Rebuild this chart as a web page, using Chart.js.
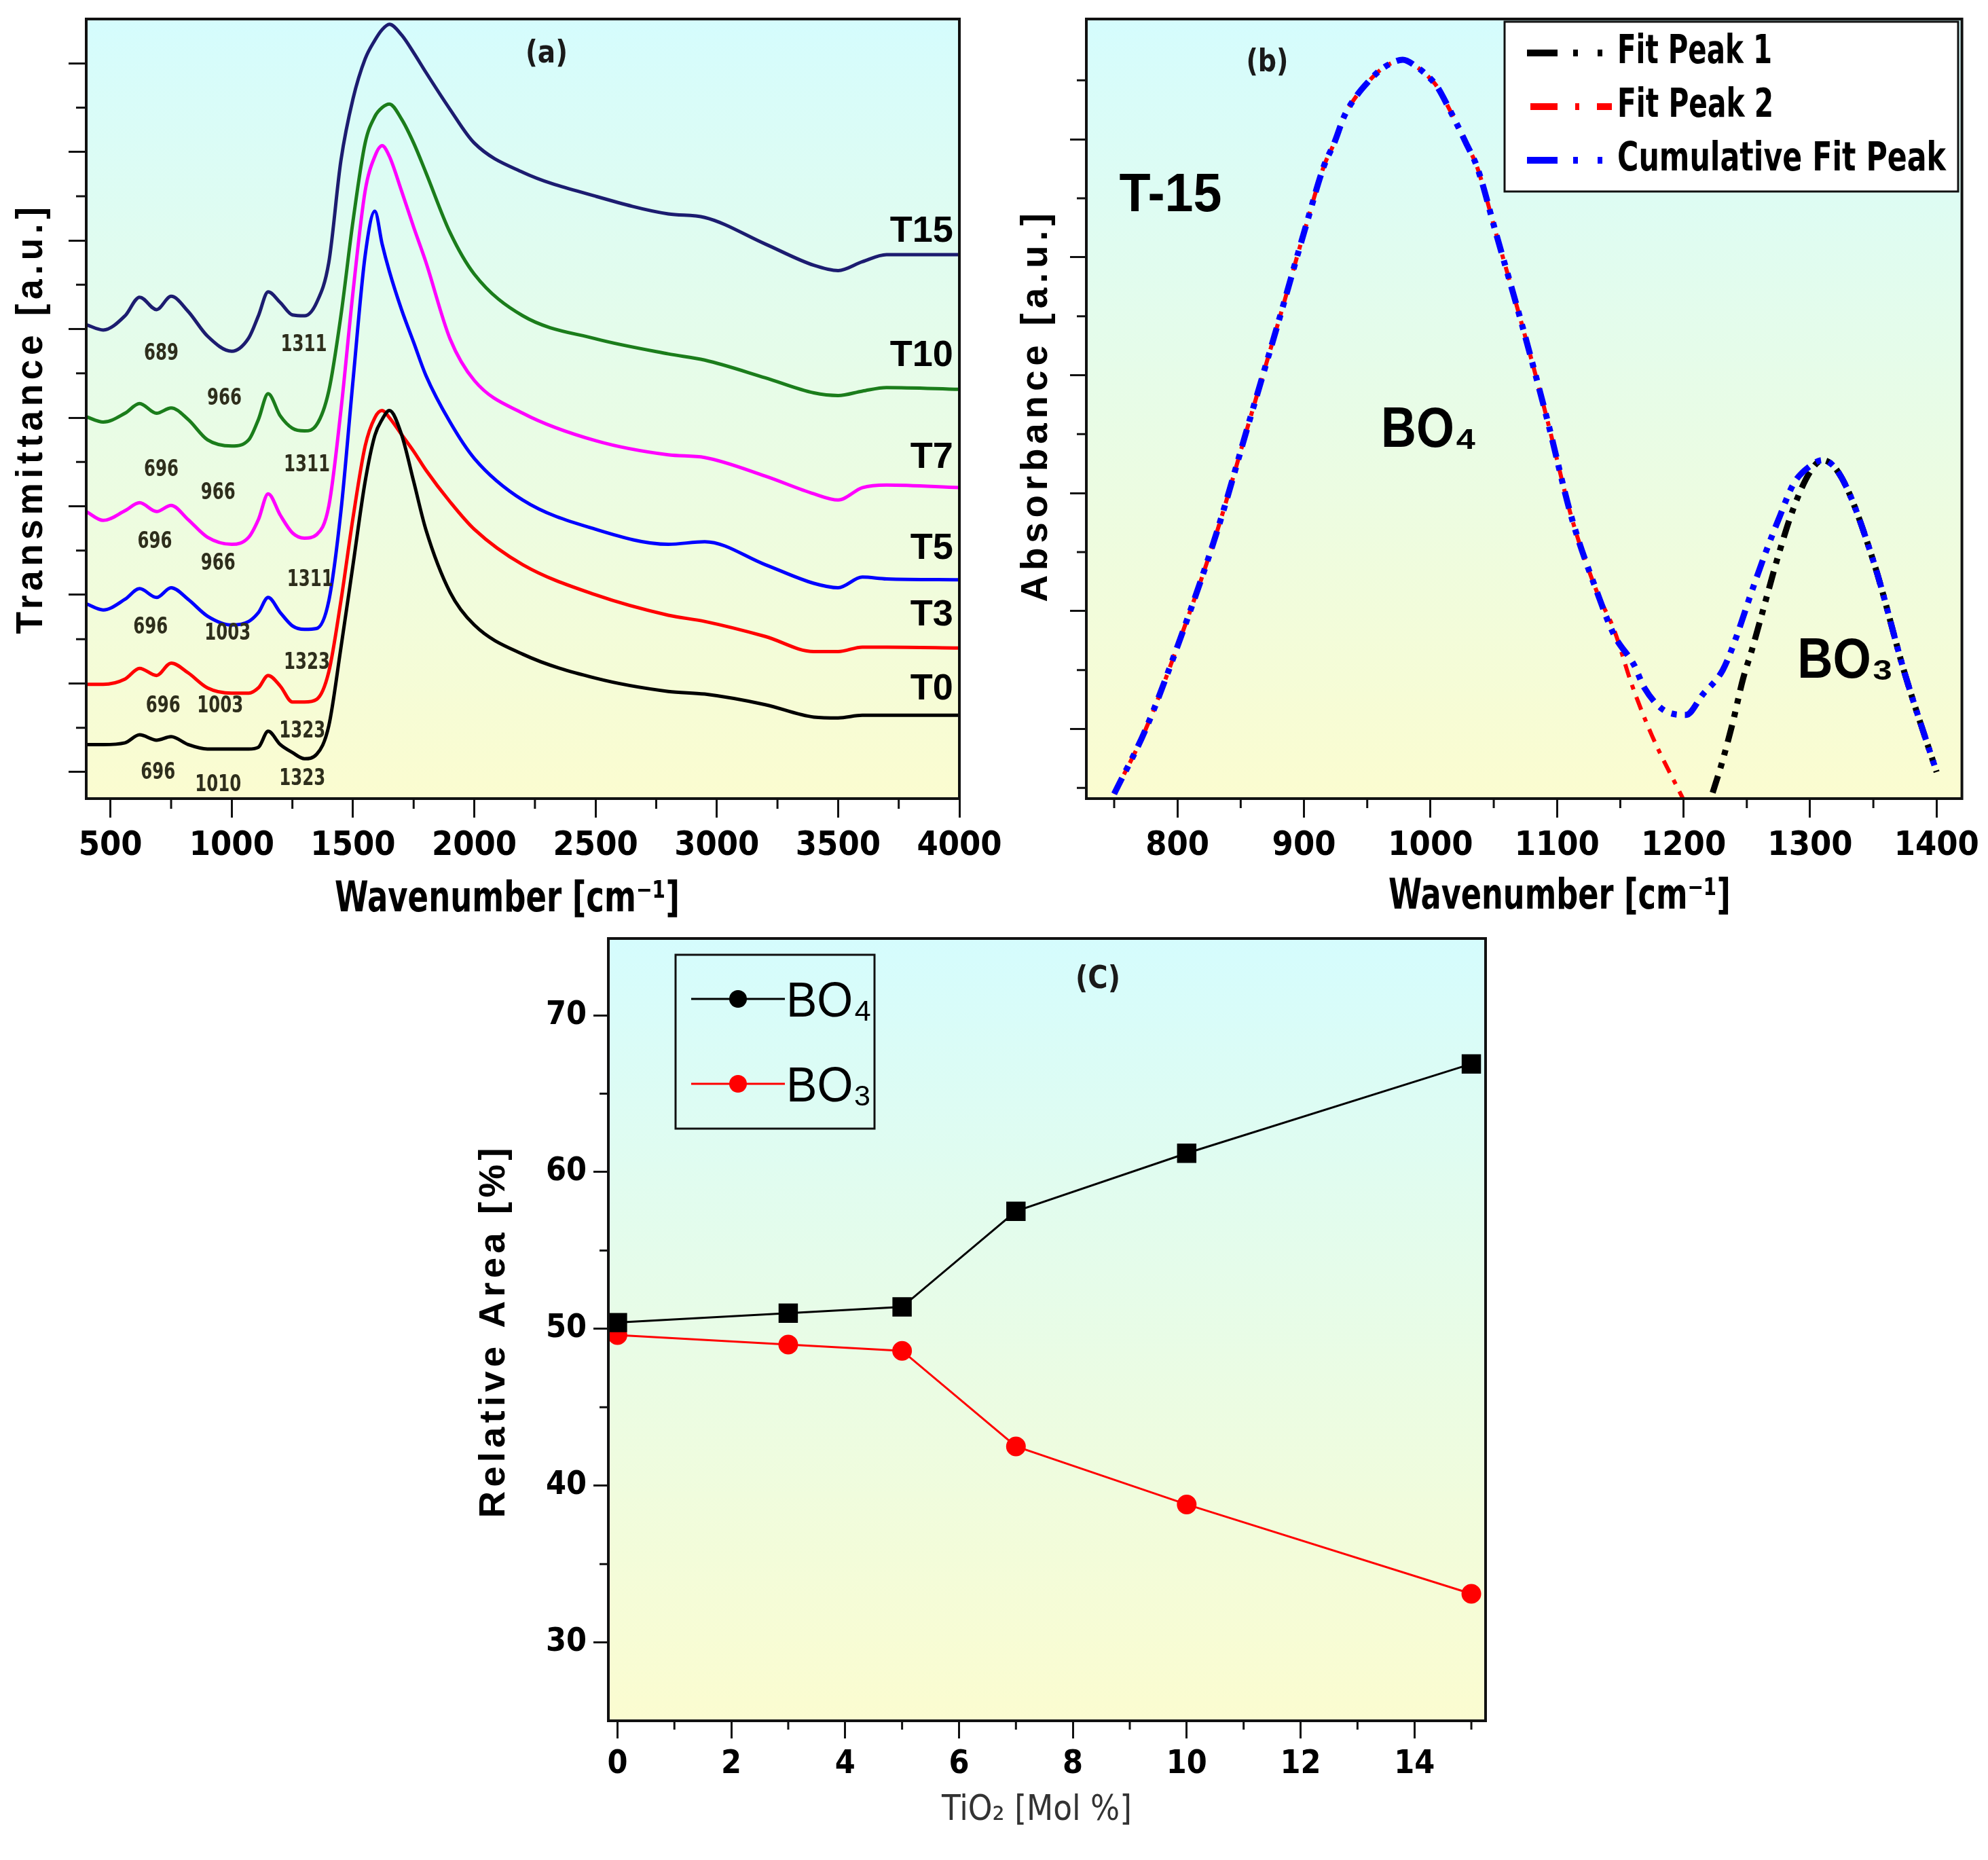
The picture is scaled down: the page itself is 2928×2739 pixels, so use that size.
<!DOCTYPE html>
<html>
<head>
<meta charset="utf-8">
<script src="https://cdn.jsdelivr.net/npm/chart.js@4.4.1/dist/chart.umd.min.js"></script>
<style>
  body { margin: 0; background: #fff; width: 2928px; height: 2739px; position: relative; overflow: hidden; }
  canvas { position: absolute; left: 0; top: 0; }
</style>
</head>
<body>
<canvas id="chartA" width="2928" height="2739"></canvas>
<canvas id="chartB" width="2928" height="2739"></canvas>
<canvas id="chartC" width="2928" height="2739"></canvas>
<script>
// ---------- (a) FTIR transmittance spectra, stacked (arbitrary units) ----------
const ftirWavenumbers = [400, 470, 560, 620, 690, 750, 820, 900, 1000, 1070, 1110, 1150, 1200, 1250, 1300, 1350, 1400, 1450, 1500, 1550, 1590, 1620, 1650, 1700, 1750, 1800, 1900, 2000, 2200, 2500, 2800, 2950, 3200, 3400, 3500, 3600, 3700, 4000]
const t0  = [0.31, 0.31, 0.33, 0.42, 0.36, 0.40, 0.31, 0.26, 0.26, 0.26, 0.28, 0.46, 0.31, 0.22, 0.15, 0.20, 0.52, 1.40, 2.34, 3.28, 3.80, 3.98, 4.08, 3.81, 3.28, 2.74, 2.03, 1.66, 1.33, 1.06, 0.91, 0.88, 0.76, 0.62, 0.61, 0.64, 0.64, 0.64]
const t3  = [0.99, 0.99, 1.05, 1.17, 1.09, 1.23, 1.12, 0.95, 0.89, 0.89, 0.95, 1.09, 0.97, 0.79, 0.79, 0.82, 1.13, 1.93, 2.87, 3.68, 4.00, 4.08, 4.00, 3.81, 3.62, 3.41, 3.05, 2.74, 2.34, 2.00, 1.77, 1.70, 1.53, 1.36, 1.36, 1.41, 1.41, 1.40]
const t5  = [1.90, 1.83, 1.95, 2.07, 1.97, 2.08, 1.95, 1.76, 1.66, 1.70, 1.80, 1.97, 1.80, 1.65, 1.61, 1.62, 1.93, 2.94, 4.42, 5.83, 6.33, 5.96, 5.65, 5.22, 4.85, 4.48, 3.95, 3.54, 3.07, 2.74, 2.57, 2.60, 2.34, 2.13, 2.08, 2.20, 2.18, 2.17]
const t7  = [2.94, 2.84, 2.95, 3.04, 2.94, 3.01, 2.85, 2.65, 2.57, 2.65, 2.85, 3.14, 2.90, 2.70, 2.64, 2.68, 3.00, 4.08, 5.42, 6.56, 6.95, 7.07, 6.95, 6.56, 6.15, 5.76, 4.89, 4.42, 4.05, 3.74, 3.58, 3.55, 3.34, 3.14, 3.07, 3.21, 3.24, 3.21]
const t10 = [4.01, 3.95, 4.05, 4.16, 4.05, 4.11, 3.98, 3.75, 3.68, 3.75, 3.98, 4.27, 4.02, 3.88, 3.85, 3.92, 4.30, 5.15, 6.22, 7.10, 7.40, 7.50, 7.54, 7.37, 7.10, 6.77, 6.09, 5.62, 5.15, 4.89, 4.72, 4.65, 4.45, 4.28, 4.25, 4.30, 4.34, 4.32]
const t15 = [5.05, 4.99, 5.15, 5.36, 5.22, 5.37, 5.20, 4.92, 4.75, 4.90, 5.15, 5.42, 5.30, 5.16, 5.15, 5.30, 5.75, 6.90, 7.60, 8.05, 8.26, 8.38, 8.44, 8.32, 8.12, 7.90, 7.48, 7.10, 6.77, 6.50, 6.30, 6.26, 5.96, 5.72, 5.66, 5.76, 5.84, 5.84]
const sampleNames = ['T0', 'T3', 'T5', 'T7', 'T10', 'T15']
const sampleNameLevel = [0.93, 1.77, 2.52, 3.55, 4.70, 6.10]
const bandText = ['689', '1311', '966', '696', '966', '1311', '696', '966', '1311', '696', '1003', '1323', '696', '1003', '1323', '696', '1010', '1323']
const bandWn   = [709, 1297, 970, 709, 944, 1310, 683, 944, 1323, 665, 983, 1310, 717, 952, 1291, 696, 944, 1291]
const bandLevel = [4.72, 4.82, 4.21, 3.41, 3.15, 3.46, 2.60, 2.35, 2.17, 1.63, 1.56, 1.23, 0.74, 0.74, 0.46, -0.01, -0.15, -0.08]
const aMajorX = [500, 1000, 1500, 2000, 2500, 3000, 3500, 4000]
const aMinorX = [750, 1250, 1750, 2250, 2750, 3250, 3750]
const aMajorY = [0, 1, 2, 3, 4, 5, 6, 7, 8]
const aMinorY = [0.5, 1.5, 2.5, 3.5, 4.5, 5.5, 6.5, 7.5]

// ---------- (b) peak fit of T-15 absorbance ----------
const peak2Wn  = [750, 775, 800, 831, 856, 881, 901, 916, 924, 932, 942, 951, 959, 968, 978, 989, 998, 1005, 1014, 1028, 1037, 1052, 1072, 1092, 1112, 1132, 1145, 1159, 1175, 1200]
const peak2Abs = [-0.1, 1.0, 2.4, 4.33, 6.16, 7.99, 9.49, 10.56, 10.94, 11.4, 11.75, 11.98, 12.15, 12.28, 12.35, 12.23, 12.07, 11.9, 11.55, 10.94, 10.52, 9.39, 7.88, 6.27, 4.55, 3.3, 2.69, 1.76, 0.89, -0.2]
const peak1Wn  = [1223, 1230, 1239, 1247, 1254, 1263, 1275, 1287, 1300, 1310, 1325, 1350, 1375, 1400]
const peak1Abs = [-0.08, 0.40, 1.12, 1.85, 2.34, 3.03, 3.95, 4.75, 5.36, 5.56, 5.26, 3.85, 1.93, 0.27]
const cumWn  = [750, 775, 800, 831, 856, 881, 901, 916, 924, 932, 942, 951, 959, 968, 978, 989, 998, 1005, 1014, 1028, 1037, 1052, 1072, 1092, 1112, 1132, 1145, 1161, 1169, 1186, 1202, 1215, 1231, 1240, 1254, 1265, 1275, 1287, 1300, 1310, 1325, 1350, 1375, 1400]
const cumAbs = [-0.1, 1.0, 2.4, 4.33, 6.16, 7.99, 9.49, 10.56, 10.94, 11.4, 11.75, 11.98, 12.15, 12.28, 12.35, 12.23, 12.07, 11.9, 11.55, 10.94, 10.52, 9.39, 7.88, 6.27, 4.55, 3.3, 2.6, 2.08, 1.7, 1.3, 1.24, 1.58, 2.0, 2.46, 3.34, 4.0, 4.55, 5.16, 5.46, 5.56, 5.26, 3.85, 1.93, 0.27]
const fitNames = ['Fit Peak 1', 'Fit Peak 2', 'Cumulative Fit Peak']
const bMajorX = [800, 900, 1000, 1100, 1200, 1300, 1400]
const bMinorX = [750, 850, 950, 1050, 1150, 1250, 1350]
const bMajorY = [1, 3, 5, 7, 9, 11]
const bMinorY = [0, 2, 4, 6, 8, 10, 12]

// ---------- (c) relative area vs TiO2 ----------
const tio2Mol = [0, 3, 5, 7, 10, 15]
const bo4Area = [50.4, 51.0, 51.4, 57.5, 61.2, 66.9]
const bo3Area = [49.6, 49.0, 48.6, 42.5, 38.8, 33.1]
const cMajorX = [0, 2, 4, 6, 8, 10, 12, 14]
const cMinorX = [1, 3, 5, 7, 9, 11, 13, 15]
const cMajorY = [30, 40, 50, 60, 70]
const cMinorY = [35, 45, 55, 65]

const narrow = '"Liberation Sans Narrow", "DejaVu Sans Condensed", sans-serif'
const sans = '"Liberation Sans", Arial, sans-serif'
const W = 2928, H = 2739

function pts(xs, ys) { return xs.map((x, i) => ({x: x, y: ys[i]})) }

// text helper; o.w squeezes the text horizontally to that width
function txt(ctx, s, x, y, o) {
  ctx.save()
  ctx.font = (o.weight || 'bold') + ' ' + o.size + 'px ' + (o.family || narrow)
  ctx.fillStyle = o.color || '#000'
  ctx.textAlign = o.align || 'center'
  ctx.textBaseline = o.baseline || 'middle'
  if (o.spacing) ctx.letterSpacing = o.spacing + 'px'
  ctx.translate(x, y)
  if (o.rotate) ctx.rotate(o.rotate)
  if (o.w) {
    const m = ctx.measureText(s).width
    if (m > 0) ctx.scale(o.w / m, 1)
  }
  ctx.fillText(s, 0, 0)
  ctx.restore()
}

// gradient background, frame and minor ticks for one panel
function decor(minorX, minorY, minorLen, extra) {
  return {
    id: 'decor',
    beforeDraw(chart) {
      const {ctx, chartArea: a} = chart
      const g = ctx.createLinearGradient(0, a.top, 0, a.bottom)
      g.addColorStop(0, '#d5fcfd')
      g.addColorStop(1, '#fbfcd0')
      ctx.save()
      ctx.fillStyle = g
      ctx.fillRect(a.left, a.top, a.right - a.left, a.bottom - a.top)
      ctx.restore()
    },
    afterDraw(chart) {
      const {ctx, chartArea: a, scales} = chart
      ctx.save()
      ctx.strokeStyle = '#111'
      ctx.lineWidth = 3
      ctx.beginPath()
      minorX.forEach(v => {
        const px = scales.x.getPixelForValue(v)
        ctx.moveTo(px, a.bottom); ctx.lineTo(px, a.bottom + minorLen)
      })
      minorY.forEach(v => {
        const py = scales.y.getPixelForValue(v)
        ctx.moveTo(a.left - minorLen, py); ctx.lineTo(a.left, py)
      })
      ctx.stroke()
      ctx.lineWidth = 4
      ctx.strokeRect(a.left, a.top, a.right - a.left, a.bottom - a.top)
      ctx.restore()
      extra(chart, ctx, scales)
    }
  }
}

function axis(min, max, majors, tickLen, fitKey, fitSize, labels, fontSize, pad) {
  return {
    type: 'linear', min: min, max: max,
    afterBuildTicks: s => { s.ticks = majors.map(v => ({value: v})) },
    afterFit: s => { s[fitKey] = fitSize },
    grid: { drawOnChartArea: false, drawTicks: true, tickLength: tickLen, tickWidth: 3, lineWidth: 3, tickColor: '#111' },
    border: { display: false },
    ticks: {
      autoSkip: false, maxRotation: 0, padding: pad, color: '#000',
      font: { family: narrow, size: fontSize, weight: 'bold' },
      callback: v => labels ? String(v) : ''
    }
  }
}

function baseOptions(padding, xScale, yScale) {
  return {
    responsive: false, devicePixelRatio: 1, animation: false, events: [],
    layout: { padding: padding },
    plugins: { legend: { display: false }, tooltip: { enabled: false } },
    scales: { x: xScale, y: yScale }
  }
}

// ---------------- chart (a) ----------------
const specColors = ['#000000', '#ff0000', '#0000ff', '#ff00ff', '#1b7d1b', '#1c1c70']
const spectra = [t0, t3, t5, t7, t10, t15]
new Chart(document.getElementById('chartA'), {
  type: 'line',
  data: {
    datasets: spectra.map((s, i) => ({
      label: sampleNames[i], data: pts(ftirWavenumbers, s),
      borderColor: specColors[i], borderWidth: 5, pointRadius: 0,
      cubicInterpolationMode: 'monotone'
    }))
  },
  options: baseOptions(
    { left: 27, top: 28, right: W - 1413, bottom: H - 1176 - 210 },
    axis(400, 4000, aMajorX, 28, 'height', 210, true, 50, 12),
    axis(-0.3, 8.5, aMajorY, 26, 'width', 100, false, 10, 4)
  ),
  plugins: [decor(aMinorX, aMinorY, 15, (chart, ctx, sc) => {
    bandText.forEach((t, i) => txt(ctx, t, sc.x.getPixelForValue(bandWn[i]), sc.y.getPixelForValue(bandLevel[i]),
      {size: 34, color: '#2e2e1c', w: t.length * 17}))
    sampleNames.forEach((n, i) => txt(ctx, n, sc.x.getPixelForValue(3974), sc.y.getPixelForValue(sampleNameLevel[i]), {size: 54, family: sans, align: 'right'}))
    txt(ctx, '(a)', sc.x.getPixelForValue(2298), sc.y.getPixelForValue(8.1), {size: 46, color: '#1a1a1a', w: 62})
    txt(ctx, 'Transmittance [a.u.]', 47, 616, {size: 56, family: sans, spacing: 7, rotate: -Math.PI / 2, w: 635})
    txt(ctx, 'Wavenumber [cm\u207B\u00B9]', 747, 1326, {size: 62, w: 508})
  })]
})

// ---------------- chart (b) ----------------
const fitColors = ['#000000', '#ff0000', '#0000ff']
const fitDashes = [[26, 12, 8, 12, 8, 12], [20, 12, 7, 12], [26, 12, 8, 12, 8, 12]]
const fitWidths = [9, 6, 9]
const fitData = [pts(peak1Wn, peak1Abs), pts(peak2Wn, peak2Abs), pts(cumWn, cumAbs)]
new Chart(document.getElementById('chartB'), {
  type: 'line',
  data: {
    // cumulative listed first so that it is drawn on top
    datasets: [2, 1, 0].map(i => ({
      label: fitNames[i], data: fitData[i],
      borderColor: fitColors[i], borderWidth: fitWidths[i], borderDash: fitDashes[i],
      pointRadius: 0, cubicInterpolationMode: 'monotone'
    }))
  },
  options: baseOptions(
    { left: 1500, top: 28, right: W - 2890, bottom: H - 1176 - 210 },
    axis(728, 1420, bMajorX, 28, 'height', 210, true, 50, 12),
    axis(-0.18, 13.04, bMajorY, 24, 'width', 100, false, 10, 4)
  ),
  plugins: [decor(bMinorX, bMinorY, 14, (chart, ctx, sc) => {
    const X = v => sc.x.getPixelForValue(v), Y = v => sc.y.getPixelForValue(v)
    txt(ctx, '(b)', X(871), Y(12.29), {size: 46, color: '#1a1a1a', w: 62})
    txt(ctx, 'T-15', X(754), Y(10.03), {size: 80, family: sans, align: 'left', w: 151})
    txt(ctx, 'BO\u2084', X(999), Y(6.05), {size: 84, family: sans, w: 142})
    txt(ctx, 'BO\u2083', X(1328), Y(2.14), {size: 84, family: sans, w: 142})
    // legend box
    ctx.save()
    ctx.fillStyle = '#fff'
    ctx.fillRect(2216, 32, 668, 250)
    ctx.strokeStyle = '#111'; ctx.lineWidth = 3
    ctx.strokeRect(2216, 32, 668, 250)
    const legW = [228, 230, 484]
    const legDash = [[45, 23, 7, 29, 7, 1000], [40, 26, 6, 26, 22, 1000], [45, 23, 7, 29, 7, 1000]]
    fitNames.forEach((n, i) => {
      const y = 78 + i * 79
      const x0 = i === 1 ? 2254 : 2249
      ctx.beginPath()
      ctx.strokeStyle = fitColors[i]; ctx.lineWidth = 10
      ctx.setLineDash(legDash[i])
      ctx.moveTo(x0, y); ctx.lineTo(2376, y); ctx.stroke()
      ctx.setLineDash([])
      txt(ctx, n, 2382, y, {size: 58, align: 'left', w: legW[i]})
    })
    ctx.restore()
    txt(ctx, 'Absorbance [a.u.]', 1527, 597, {size: 56, family: sans, spacing: 7, rotate: -Math.PI / 2, w: 579})
    txt(ctx, 'Wavenumber [cm\u207B\u00B9]', 2297, 1322, {size: 62, w: 504})
  })]
})

// ---------------- chart (c) ----------------
const areaNames = ['BO\u2084', 'BO\u2083']
const areaColors = ['#000000', '#ff0000']
new Chart(document.getElementById('chartC'), {
  type: 'line',
  data: {
    datasets: [
      { label: areaNames[0], data: pts(tio2Mol, bo4Area), borderColor: areaColors[0], backgroundColor: areaColors[0],
        borderWidth: 3, pointStyle: 'rect', pointRadius: 18, tension: 0 },
      { label: areaNames[1], data: pts(tio2Mol, bo3Area), borderColor: areaColors[1], backgroundColor: areaColors[1],
        borderWidth: 3, pointStyle: 'circle', pointRadius: 13, tension: 0 }
    ]
  },
  options: baseOptions(
    { left: 896 - 140, top: 1382, right: W - 2188, bottom: H - 2534 - 150 },
    axis(-0.16, 15.25, cMajorX, 26, 'height', 150, true, 48, 10),
    axis(25, 74.9, cMajorY, 22, 'width', 140, true, 48, 10)
  ),
  plugins: [decor(cMinorX, cMinorY, 13, (chart, ctx, sc) => {
    txt(ctx, '(C)', 1617, 1443, {size: 46, color: '#1a1a1a', w: 66})
    ctx.save()
    ctx.strokeStyle = '#111'; ctx.lineWidth = 3
    ctx.strokeRect(995, 1406, 293, 256)
    areaNames.forEach((n, i) => {
      const y = 1471 + i * 125
      ctx.beginPath()
      ctx.strokeStyle = areaColors[i]; ctx.lineWidth = 3
      ctx.moveTo(1018, y); ctx.lineTo(1156, y); ctx.stroke()
      ctx.beginPath()
      ctx.fillStyle = areaColors[i]
      ctx.arc(1087, y, 13, 0, Math.PI * 2); ctx.fill()
      txt(ctx, n, 1158, y + 6, {size: 72, family: sans, weight: 'normal', align: 'left', w: 126})
    })
    ctx.restore()
    txt(ctx, 'Relative Area [%]', 728, 1960, {size: 54, family: sans, spacing: 6, rotate: -Math.PI / 2, w: 551})
    txt(ctx, 'TiO\u2082 [Mol %]', 1527, 2666, {size: 52, weight: 'normal', color: '#333', w: 280})
  })]
})
</script>
</body>
</html>
